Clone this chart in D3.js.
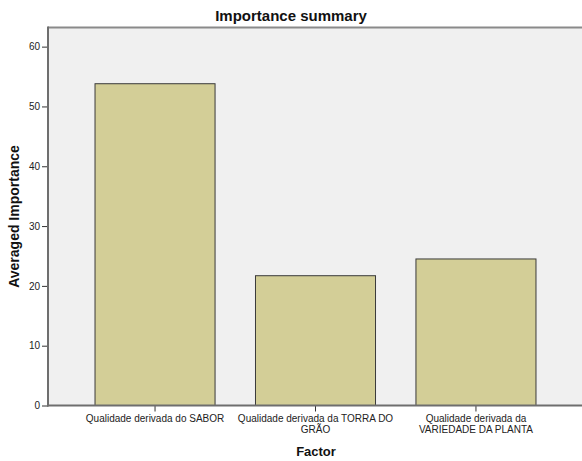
<!DOCTYPE html>
<html>
<head>
<meta charset="utf-8">
<script src="https://cdn.jsdelivr.net/npm/d3@7"></script>
<style>
  html, body { margin: 0; padding: 0; background: #ffffff; }
  svg { display: block; font-family: "Liberation Sans", Arial, sans-serif; }
</style>
</head>
<body>
<svg id="chart" width="582" height="461"></svg>
<script>
// Factor categories, each split into the lines it is printed on
const categories = [
  ["Qualidade derivada do SABOR"],
  ["Qualidade derivada da TORRA DO", "GRÃO"],
  ["Qualidade derivada da", "VARIEDADE DA PLANTA"]
];
// Averaged importance per factor
const importance = [53.8, 21.7, 24.5];
// Y-axis tick values
const yTicks = [0, 10, 20, 30, 40, 50, 60];

const svg = d3.select("#chart");
const W = 582, H = 461;
const plot = { left: 48, top: 27.5, right: 583, bottom: 405.5 };

const keys = categories.map((c, i) => i);
const x = d3.scaleBand()
  .domain(keys)
  .range([plot.left, plot.right])
  .paddingInner(0.252)
  .paddingOuter(0.293);

const y = d3.scaleLinear()
  .domain([0, 63.2])
  .range([plot.bottom, plot.top]);

// plot background
svg.append("rect")
  .attr("x", plot.left).attr("y", plot.top)
  .attr("width", W - plot.left).attr("height", plot.bottom - plot.top)
  .attr("fill", "#f0f0f0");

// bars
svg.append("g").selectAll("rect")
  .data(importance)
  .join("rect")
  .attr("x", (d, i) => x(i))
  .attr("y", d => y(d))
  .attr("width", x.bandwidth())
  .attr("height", d => y(0) - y(d))
  .attr("fill", "#d3ce97")
  .attr("stroke", "#3a3a3a")
  .attr("stroke-width", 1);

// top frame line
svg.append("line")
  .attr("x1", plot.left).attr("x2", W)
  .attr("y1", plot.top).attr("y2", plot.top)
  .attr("stroke", "#8a8a8a").attr("stroke-width", 2);

// y axis
const yAxis = svg.append("g")
  .attr("transform", `translate(${plot.left},0)`)
  .call(d3.axisLeft(y).tickValues(yTicks).tickSize(6).tickPadding(2));
yAxis.select(".domain").remove();
yAxis.selectAll(".tick line").attr("stroke", "#333").attr("stroke-width", 1);
yAxis.selectAll(".tick text")
  .attr("font-size", 10).attr("fill", "#222")
  .attr("font-family", "Liberation Sans, Arial, sans-serif");
svg.append("line")
  .attr("x1", plot.left).attr("x2", plot.left)
  .attr("y1", plot.top - 1).attr("y2", plot.bottom + 1)
  .attr("stroke", "#6e6e6e").attr("stroke-width", 2);

// x axis
const xAxis = svg.append("g")
  .attr("transform", `translate(0,${plot.bottom})`)
  .call(d3.axisBottom(x).tickSize(6).tickFormat(""));
xAxis.select(".domain").remove();
xAxis.selectAll(".tick line").attr("stroke", "#333").attr("stroke-width", 1);
svg.append("line")
  .attr("x1", plot.left - 1).attr("x2", W)
  .attr("y1", plot.bottom).attr("y2", plot.bottom)
  .attr("stroke", "#6e6e6e").attr("stroke-width", 2);

// category labels
const labels = svg.append("g")
  .attr("font-size", 10).attr("fill", "#222").attr("text-anchor", "middle");
categories.forEach((lines, i) => {
  const t = labels.append("text")
    .attr("x", x(i) + x.bandwidth() / 2)
    .attr("y", 421.5);
  lines.forEach((ln, j) => {
    t.append("tspan")
      .attr("x", x(i) + x.bandwidth() / 2)
      .attr("dy", j === 0 ? 0 : 11)
      .text(ln);
  });
});

// title
svg.append("text")
  .attr("x", 291).attr("y", 20.5)
  .attr("text-anchor", "middle")
  .attr("font-size", 15).attr("font-weight", "bold").attr("fill", "#111")
  .text("Importance summary");

// x axis title
svg.append("text")
  .attr("x", 316).attr("y", 456)
  .attr("text-anchor", "middle")
  .attr("font-size", 13).attr("font-weight", "bold").attr("fill", "#111")
  .text("Factor");

// y axis title
svg.append("text")
  .attr("transform", "translate(19,216.5) rotate(-90)")
  .attr("text-anchor", "middle")
  .attr("font-size", 14).attr("font-weight", "bold").attr("fill", "#111")
  .text("Averaged Importance");
</script>
</body>
</html>
